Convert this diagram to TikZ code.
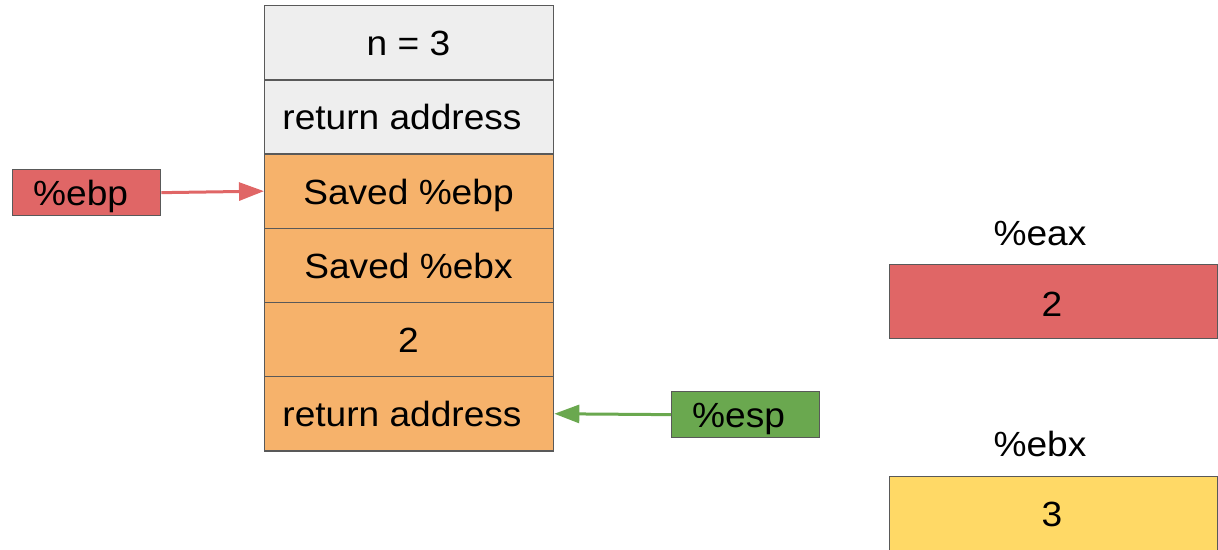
\documentclass[tikz,border=0pt]{standalone}
\usepackage{fontspec}
\setmainfont{Liberation Sans}
\usetikzlibrary{arrows.meta}
\definecolor{cgray}{HTML}{EEEEEE}
\definecolor{corange}{HTML}{F6B26B}
\definecolor{cred}{HTML}{E06666}
\definecolor{cgreen}{HTML}{6AA84F}
\definecolor{cyellow}{HTML}{FFD966}
\definecolor{cborder}{HTML}{595959}
\newcommand{\wtxt}[1]{\scalebox{1.06}[1]{#1}}
\tikzset{
  cell/.style={draw=cborder, line width=1.3pt, minimum width=289pt, minimum height=74.2pt, inner sep=0pt, anchor=north west},
  reg/.style={draw=cborder, line width=1.3pt, minimum width=148pt, minimum height=46pt, inner sep=0pt, anchor=north west},
  txt/.style={font=\fontsize{35}{40}\selectfont, inner sep=0pt, anchor=base},
  ptr/.style={line width=3pt, -{Triangle[length=25pt,width=18pt]}}
}
\begin{document}
\begin{tikzpicture}[x=1pt,y=-1pt]
\useasboundingbox (0,0) rectangle (1218,549);
% stack cells
\node[cell, fill=cgray]   (c1) at (264,5)     {};
\node[cell, fill=cgray]   (c2) at (264,79.2)  {};
\node[cell, fill=corange] (c3) at (264,153.4) {};
\node[cell, fill=corange] (c4) at (264,227.6) {};
\node[cell, fill=corange] (c5) at (264,301.8) {};
\node[cell, fill=corange] (c6) at (264,376)   {};
\node[txt] (t1) at (408.5,55)  {\wtxt{n = 3}};
\node[txt] (t2) at (402,129.5) {\wtxt{return address}};
\node[txt] (t3) at (408.5,204) {\wtxt{Saved \%ebp}};
\node[txt] (t4) at (408.5,278) {\wtxt{Saved \%ebx}};
\node[txt] (t5) at (408.5,352) {\wtxt{2}};
\node[txt] (t6) at (402,426)   {\wtxt{return address}};
% pointers
\node[reg, fill=cred]   (ebp) at (12,169) {};
\node[txt, anchor=base west] (ebpt) at (33,205) {\wtxt{\%ebp}};
\node[reg, fill=cgreen] (esp) at (671,391) {};
\node[txt, anchor=base west] (espt) at (692,427) {\wtxt{\%esp}};
\draw[ptr, draw=cred, fill=cred] (ebp.east) -- (c3.west);
\draw[ptr, draw=cgreen, fill=cgreen] (esp.west) -- (c6.east);
% registers
\node[txt] (eaxl) at (1040,245) {\wtxt{\%eax}};
\node[draw=cborder, line width=1.3pt, fill=cred, minimum width=328pt, minimum height=74pt, inner sep=0pt, anchor=north west] (eax) at (889,264) {};
\node[txt] (eaxv) at (1052,316) {\wtxt{2}};
\node[txt] (ebxl) at (1040,456) {\wtxt{\%ebx}};
\node[draw=cborder, line width=1.3pt, fill=cyellow, minimum width=328pt, minimum height=90pt, inner sep=0pt, anchor=north west] (ebx) at (889,476) {};
\node[txt] (ebxv) at (1052,526) {\wtxt{3}};
\end{tikzpicture}
\end{document}
